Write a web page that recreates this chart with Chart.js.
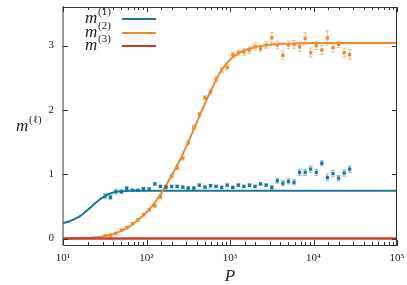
<!DOCTYPE html>
<html>
<head>
<meta charset="utf-8">
<script src="https://cdn.jsdelivr.net/npm/chart.js@4"></script>
<style>
  html, body { margin: 0; padding: 0; background: #fff; }
  #c { display: block; }
</style>
</head>
<body>
<canvas id="c" width="407" height="285"></canvas>
<script>
// sample sizes P (measured points)
const P = [32, 37, 43, 50, 58, 68, 79, 92, 108, 126, 147, 171, 200, 233, 272, 316, 369, 430, 501, 584,
  681, 794, 926, 1080, 1259, 1468, 1711, 1995, 2326, 2712, 3162, 3687, 4299, 5012, 5843, 6813, 7943,
  9261, 10798, 12589, 14678, 17113, 19953, 23263, 27123];

// m(1) measured, with error
const m1 = [0.66, 0.64, 0.73, 0.73, 0.78, 0.75, 0.75, 0.775, 0.77, 0.85, 0.81, 0.80, 0.81, 0.81, 0.80,
  0.785, 0.785, 0.83, 0.80, 0.82, 0.81, 0.795, 0.83, 0.795, 0.83, 0.81, 0.83, 0.81, 0.85, 0.83, 0.795,
  0.90, 0.86, 0.89, 0.875, 1.03, 1.03, 1.08, 1.03, 1.17, 0.95, 1.01, 0.94, 1.02, 1.08];
const m1Err = [0.04, 0.03, 0.04, 0.03, 0.03, 0.02, 0.02, 0.02, 0.02, 0.02, 0.02, 0.02, 0.02, 0.02, 0.02,
  0.02, 0.02, 0.02, 0.02, 0.02, 0.02, 0.02, 0.02, 0.02, 0.02, 0.02, 0.02, 0.02, 0.02, 0.02, 0.03,
  0.04, 0.04, 0.04, 0.04, 0.05, 0.05, 0.05, 0.05, 0.04, 0.05, 0.05, 0.04, 0.05, 0.05];

// m(2) measured, with error
const m2 = [0.04, 0.05, 0.08, 0.13, 0.17, 0.23, 0.29, 0.37, 0.45, 0.51, 0.65, 0.80, 0.97, 1.10, 1.25,
  1.49, 1.73, 1.93, 2.19, 2.28, 2.48, 2.62, 2.66, 2.86, 2.89, 2.90, 2.93, 2.98, 2.95, 3.01, 3.12,
  3.01, 2.85, 3.01, 3.02, 2.98, 3.11, 2.89, 3.00, 2.93, 3.12, 2.97, 3.02, 2.89, 2.86];
const m2Err = [0.02, 0.02, 0.02, 0.02, 0.02, 0.02, 0.02, 0.02, 0.02, 0.02, 0.03, 0.03, 0.03, 0.03, 0.03,
  0.03, 0.03, 0.03, 0.03, 0.03, 0.04, 0.04, 0.04, 0.04, 0.04, 0.05, 0.05, 0.05, 0.05, 0.05, 0.08,
  0.06, 0.07, 0.06, 0.06, 0.07, 0.09, 0.07, 0.06, 0.07, 0.11, 0.07, 0.05, 0.07, 0.08];

// theory curves
const fitP = [10, 12, 14, 16, 18, 20, 25, 32, 40, 50, 63, 79, 100, 126, 158, 200, 251, 316, 398, 501, 631, 794,
  1000, 1259, 1585, 2512, 5012, 10000, 100000];
const fit1 = [0.24, 0.27, 0.31, 0.35, 0.40, 0.45, 0.565, 0.665, 0.715, 0.735, 0.742, 0.745, 0.745, 0.745,
  0.745, 0.745, 0.745, 0.745, 0.745, 0.745, 0.745, 0.745, 0.745, 0.745, 0.745, 0.745, 0.745, 0.745, 0.745];
const fit2 = [0.0, 0.001, 0.003, 0.005, 0.007, 0.01, 0.02, 0.04, 0.07, 0.12, 0.19, 0.29, 0.41, 0.56, 0.75,
  0.98, 1.22, 1.50, 1.80, 2.10, 2.38, 2.62, 2.78, 2.88, 2.94, 3.00, 3.03, 3.04, 3.04];
const fit3P = [10, 100000];
const fit3 = [0, 0];

const xTicks = [10, 100, 1000, 10000, 100000];
const yTicks = [0, 1, 2, 3];

const TEAL = '#1b7898';
const ORANGE = '#f08a2e';
const RED = '#cc3d2a';
const SERIF = '"Liberation Serif", "DejaVu Serif", serif';

const pts = (xs, ys) => xs.map((x, i) => ({ x: x, y: ys[i] }));
const sup = { '0': '⁰', '1': '¹', '2': '²', '3': '³', '4': '⁴', '5': '⁵' };

// error bars, drawn under the datasets
const errorBars = {
  id: 'errorBars',
  beforeDatasetsDraw(chart) {
    const ctx = chart.ctx, xs = chart.scales.x, ys = chart.scales.y;
    chart.data.datasets.forEach(ds => {
      if (!ds.errors) return;
      ctx.save();
      ctx.strokeStyle = ds.errColor;
      ctx.lineWidth = 1;
      ds.data.forEach((d, i) => {
        const px = xs.getPixelForValue(d.x);
        const y1 = ys.getPixelForValue(d.y - ds.errors[i]);
        const y2 = ys.getPixelForValue(d.y + ds.errors[i]);
        ctx.beginPath();
        ctx.moveTo(px, y1); ctx.lineTo(px, y2);
        ctx.moveTo(px - 2, y1); ctx.lineTo(px + 2, y1);
        ctx.moveTo(px - 2, y2); ctx.lineTo(px + 2, y2);
        ctx.stroke();
      });
      ctx.restore();
    });
  }
};

// frame, inward ticks, legend and axis titles
const frame = {
  id: 'frame',
  afterDraw(chart) {
    const ctx = chart.ctx, a = chart.chartArea, xs = chart.scales.x, ys = chart.scales.y;
    ctx.save();
    ctx.strokeStyle = '#333';
    ctx.lineWidth = 1;
    ctx.beginPath();
    ctx.moveTo(a.left, a.top + 0.5); ctx.lineTo(a.right, a.top + 0.5);
    ctx.moveTo(a.right - 0.5, a.top); ctx.lineTo(a.right - 0.5, a.bottom);
    xs.ticks.forEach(t => {
      const px = Math.round(xs.getPixelForValue(t.value)) + 0.5;
      const major = xTicks.includes(t.value);
      const len = major ? 5 : 3;
      ctx.moveTo(px, a.bottom); ctx.lineTo(px, a.bottom - len);
      ctx.moveTo(px, a.top); ctx.lineTo(px, a.top + len);
    });
    ys.ticks.forEach(t => {
      const py = Math.round(ys.getPixelForValue(t.value)) + 0.5;
      ctx.moveTo(a.left, py); ctx.lineTo(a.left + 5, py);
      ctx.moveTo(a.right, py); ctx.lineTo(a.right - 5, py);
    });
    ctx.stroke();

    // legend
    const rows = [['(1)', TEAL, 23], ['(2)', ORANGE, 37], ['(3)', RED, 50]];
    rows.forEach(r => {
      ctx.fillStyle = '#222';
      ctx.textBaseline = 'alphabetic';
      ctx.textAlign = 'left';
      ctx.font = 'italic 17px ' + SERIF;
      ctx.fillText('m', 85, r[2]);
      ctx.font = '11px ' + SERIF;
      ctx.fillText(r[0], 98, r[2] - 8);
      ctx.strokeStyle = r[1];
      ctx.lineWidth = 2;
      ctx.beginPath();
      ctx.moveTo(122, r[2] - 4); ctx.lineTo(156, r[2] - 4);
      ctx.stroke();
    });

    // axis titles
    ctx.fillStyle = '#222';
    ctx.font = 'italic 17px ' + SERIF;
    ctx.fillText('m', 16, 131);
    ctx.font = '11px ' + SERIF;
    ctx.fillText('(ℓ)', 29, 123);
    ctx.font = 'italic 17px ' + SERIF;
    ctx.textAlign = 'center';
    ctx.fillText('P', 230, 281);
    ctx.restore();
  }
};

// drop the label-overhang padding so the plot area is placed exactly
const noPad = s => { s.paddingTop = 0; s.paddingBottom = 0; s.paddingLeft = 0; s.paddingRight = 0; };

new Chart(document.getElementById('c'), {
  type: 'scatter',
  data: {
    datasets: [
      {
        data: pts(P, m1), errors: m1Err, errColor: '#86bfd2',
        backgroundColor: TEAL, pointStyle: 'rect', pointRadius: 2.3, pointBorderWidth: 0, showLine: false
      },
      {
        data: pts(P, m2), errors: m2Err, errColor: '#f7bb8a',
        backgroundColor: ORANGE, pointStyle: 'rect', pointRadius: 2.3, pointBorderWidth: 0, showLine: false
      },
      {
        data: pts(fit3P, fit3), showLine: true, borderColor: RED, borderWidth: 2.5, pointRadius: 0
      },
      {
        data: pts(fitP, fit2), showLine: true, borderColor: ORANGE, borderWidth: 2, pointRadius: 0,
        cubicInterpolationMode: 'monotone'
      },
      {
        data: pts(fitP, fit1), showLine: true, borderColor: TEAL, borderWidth: 2, pointRadius: 0,
        cubicInterpolationMode: 'monotone'
      }
    ]
  },
  options: {
    responsive: false,
    animation: false,
    devicePixelRatio: 1,
    layout: { padding: { left: 0, right: 10, top: 7, bottom: 0 } },
    plugins: { legend: { display: false }, tooltip: { enabled: false } },
    scales: {
      x: {
        type: 'logarithmic', min: 10, max: 100000,
        grid: { display: false, drawTicks: false },
        border: { display: true, color: '#333', width: 1 },
        ticks: {
          autoSkip: false, maxRotation: 0, padding: 7, color: '#222',
          font: { family: SERIF, size: 11 },
          callback: v => xTicks.includes(v) ? '10' + sup[String(Math.round(Math.log10(v)))] : ''
        },
        afterFit: s => { s.height = 40; noPad(s); }
      },
      y: {
        min: -0.1, max: 3.6,
        grid: { display: false, drawTicks: false },
        border: { display: true, color: '#9a9a9a', width: 2 },
        ticks: {
          stepSize: 1, includeBounds: false, padding: 9, color: '#222',
          font: { family: SERIF, size: 11 },
          callback: v => yTicks.includes(v) ? String(v) : ''
        },
        afterFit: s => { s.width = 63; noPad(s); }
      }
    }
  },
  plugins: [errorBars, frame]
});
</script>
</body>
</html>
